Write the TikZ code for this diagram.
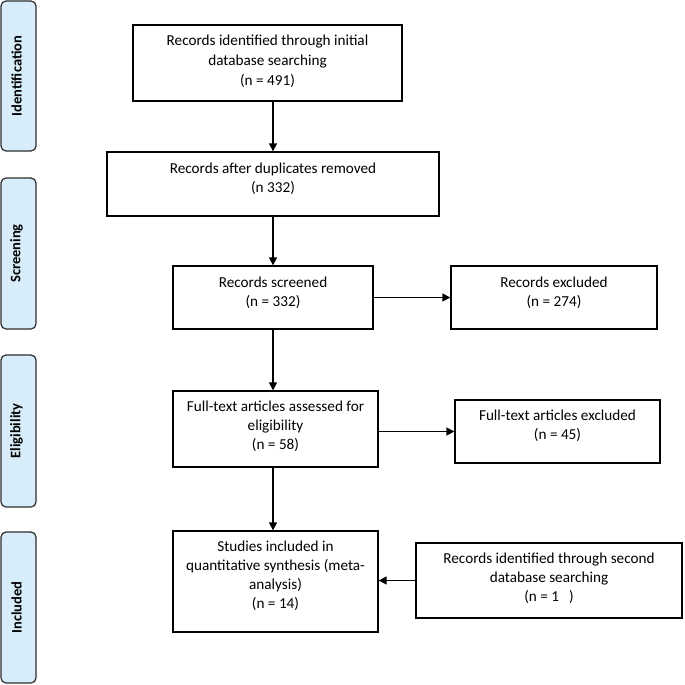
\documentclass[tikz,border=0pt]{standalone}
\usepackage{fontspec}
\setmainfont{Carlito}
\usetikzlibrary{arrows.meta}
\definecolor{sidefill}{RGB}{216,237,250}
\definecolor{sideline}{RGB}{45,45,45}
\newcommand{\btxt}[2]{\raisebox{#1}[\height][\depth]{\begin{tabular}{@{}c@{}}#2\end{tabular}}}
\begin{document}
\begin{tikzpicture}[x=1pt,y=-1pt,
  every node/.style={font=\fontsize{15.2}{19}\selectfont},
  frame/.style={draw=black, line width=1.3pt, fill=white, inner sep=0pt, rectangle},
  sidebox/.style={draw=sideline, line width=1.2pt, fill=sidefill, rounded corners=5pt, inner sep=0pt, minimum width=35pt},
  sidetext/.style={font=\fontsize{14.5}{18}\selectfont\bfseries, rotate=90},
  flow/.style={line width=1.3pt, -{Triangle[length=8pt,width=8pt]}}]
\useasboundingbox (0,0) rectangle (685,685);
\fill[white] (0,0) rectangle (685,685);

% side phase labels
\node[sidebox, minimum height=150pt] (s1) at (18.5,76) {};
\node[sidetext] (s1t) at (16.5,76) {Identification};
\node[sidebox, minimum height=151pt] (s2) at (18.5,253.5) {};
\node[sidetext] (s2t) at (16.5,253.5) {Screening};
\node[sidebox, minimum height=152pt] (s3) at (18.5,431) {};
\node[sidetext] (s3t) at (16.5,431) {Eligibility};
\node[sidebox, minimum height=151pt] (s4) at (18.5,607.5) {};
\node[sidetext] (s4t) at (16.5,607.5) {Included};

% boxes
\node[frame, minimum width=269pt, minimum height=76pt] (b1) at (267.5,63)
  {\fontsize{15.2}{20}\selectfont\btxt{1pt}{Records identified through initial\\database searching\\(n = 491)}};
\node[frame, minimum width=332pt, minimum height=64pt] (b2) at (273,184)
  {\btxt{5pt}{Records after duplicates removed\\(n 332)}};
\node[frame, minimum width=200pt, minimum height=63pt] (b3) at (273,297.5)
  {\btxt{4pt}{Records screened\\(n = 332)}};
\node[frame, minimum width=206pt, minimum height=63pt] (b4) at (554,297.5)
  {\btxt{4pt}{Records excluded\\(n = 274)}};
\node[frame, minimum width=205pt, minimum height=76pt] (b5) at (275.5,429)
  {\btxt{2pt}{Full-text articles assessed for\\eligibility\\(n = 58)}};
\node[frame, minimum width=205pt, minimum height=63pt] (b6) at (557.5,431.5)
  {\btxt{5pt}{Full-text articles excluded\\(n = 45)}};
\node[frame, minimum width=205pt, minimum height=101pt] (b7) at (275.5,581.5)
  {\btxt{5pt}{Studies included in\\quantitative synthesis (meta-\\analysis)\\(n = 14)}};
\node[frame, minimum width=266pt, minimum height=75pt] (b8) at (549,580.5)
  {\btxt{1.5pt}{Records identified through second\\database searching\\(n = 1\hspace{10pt})}};

% connectors
\draw[flow] (b2.north |- b1.south) -- (b2.north);
\draw[flow] (b2.south) -- (b3.north);
\draw[flow] (b3.east) -- (b4.west);
\draw[flow] (b3.south) -- (b3.south |- b5.north);
\draw[flow] (b6.west -| b5.east) -- (b6.west);
\draw[flow] (b5.south -| b3.south) -- (b7.north -| b3.south);
\draw[flow] (b8.west) -- (b8.west -| b7.east);
\end{tikzpicture}
\end{document}
